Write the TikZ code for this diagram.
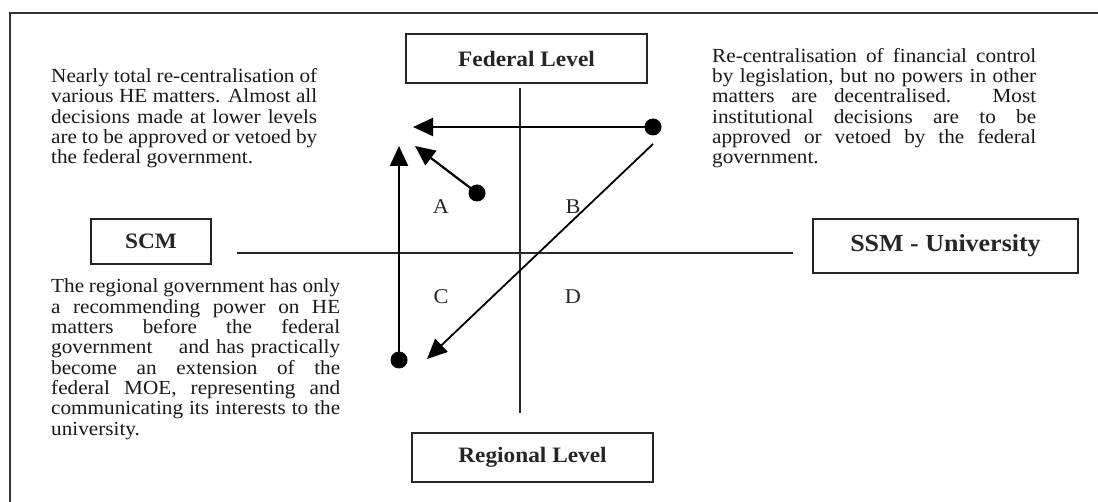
\documentclass[tikz,border=0pt]{standalone}
\usepackage{fontspec}
\setmainfont{Liberation Serif}[FakeStretch=1.06]
\usetikzlibrary{arrows.meta}
\tikzset{
  frame/.style={draw=black!80, line width=1.8pt},
  lvlbox/.style={draw=black!85, line width=2pt, minimum height=49pt, inner sep=0pt, font=\fontsize{22}{24}\selectfont\bfseries, text=black!85},
  axis/.style={draw=black!85, line width=1.8pt},
  arr/.style={draw=black, line width=2.2pt, -{Triangle[length=20pt,width=18pt]}},
  dot/.style={circle, fill=black, minimum size=17pt, inner sep=0pt},
  quad/.style={font=\fontsize{21}{22}\selectfont, text=black!85, inner sep=0pt},
  para/.style={anchor=base west, inner sep=0pt, text=black!90}
}
\newcommand{\Ln}[1]{\makebox[\linewidth][s]{#1}\\}
\begin{document}
\begin{tikzpicture}[x=1pt,y=-1pt]
\useasboundingbox (0,0) rectangle (1098,502);
% outer frame (cropped)
\draw[frame] (10,502) -- (10,13) -- (1098,13);

% level boxes
\node[lvlbox, minimum width=241pt] (fed) at (526.5,58.5) {Federal Level};
\node[lvlbox, minimum width=241pt] (reg) at (532.5,457.5) {Regional Level};
\node[lvlbox, minimum width=120pt, minimum height=45pt] (scm) at (151,241.5) {SCM};
\node[lvlbox, minimum width=265pt, minimum height=54pt, font=\fontsize{24.5}{26}\selectfont\bfseries] (ssm) at (945.5,246) {SSM - University};

% axes
\coordinate (vtop) at (520,88);
\coordinate (vbot) at (520,413);
\coordinate (hl) at (237,253);
\coordinate (hr) at (793,253);
\draw[axis] (vtop) -- (vbot);
\draw[axis] (hl) -- (hr);

% quadrant labels
\node[quad] (qa) at (441,207) {A};
\node[quad] (qb) at (573,207) {B};
\node[quad] (qc) at (441,297) {C};
\node[quad] (qd) at (573,297) {D};

% dots and arrows
\node[dot] (dB) at (653,127) {};
\node[dot] (dA) at (477,193) {};
\node[dot] (dC) at (399,360) {};
\coordinate (tB) at (413,127);
\coordinate (tA) at (415,146);
\coordinate (tC) at (399,146);
\coordinate (sD) at (653,144);
\coordinate (tD) at (427,359);
\draw[arr] (dB.center) -- (tB);
\draw[arr] (dA.center) -- (tA);
\draw[arr] (dC.center) -- (tC);
\draw[arr, line width=1.8pt] (sD) -- (tD);

% text blocks
\node[para] (txtA) at (51,82.7) {\parbox[t]{266pt}{\fontsize{20}{20.3}\selectfont
\Ln{Nearly total re-centralisation of}
\Ln{various HE matters. Almost all}
\Ln{decisions made at lower levels}
\Ln{are to be approved or vetoed by}
the federal government.}};

\node[para] (txtB) at (712,62.4) {\parbox[t]{324pt}{\fontsize{20}{20.3}\selectfont
\Ln{Re-centralisation of financial control}
\Ln{by legislation, but no powers in other}
\Ln{matters are decentralised. Most}
\Ln{institutional decisions are to be}
\Ln{approved or vetoed by the federal}
government.}};

\node[para] (txtC) at (51,293) {\parbox[t]{289pt}{\fontsize{20}{20.3}\selectfont
\Ln{The regional government has only}
\Ln{a recommending power on HE}
\Ln{matters before the federal}
\Ln{government \quad and has practically}
\Ln{become an extension of the}
\Ln{federal MOE, representing and}
\Ln{communicating its interests to the}
university.}};
\end{tikzpicture}
\end{document}
